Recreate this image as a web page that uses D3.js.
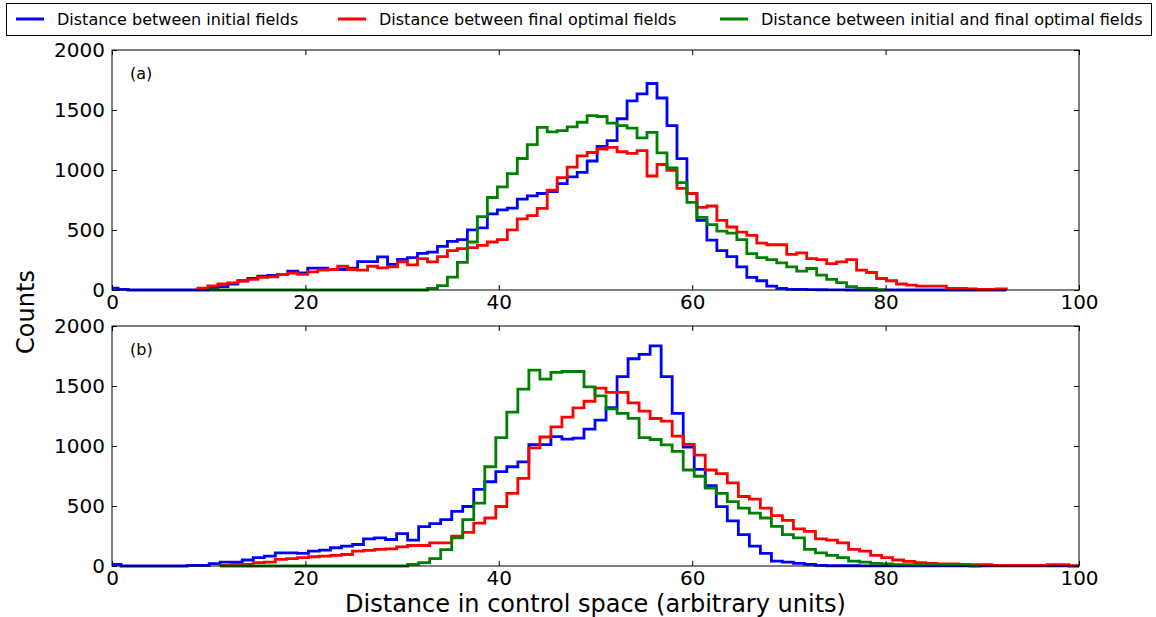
<!DOCTYPE html>
<html>
<head>
<meta charset="utf-8">
<title>Distance histograms</title>
<script src="https://cdn.jsdelivr.net/npm/d3@7/dist/d3.min.js"></script>
<style>
  body { margin: 0; background: #fff; }
  text { font-family: "DejaVu Sans", sans-serif; fill: #000; }
</style>
</head>
<body>
<div id="chart"></div>
<script>
// histogram bins (data units): first edge and width, 90 bins per panel
var binStartA = -0.4, binWidthA = 1.032;
var binStartB = -0.21, binWidthB = 1.14;

var xTicks = [0, 20, 40, 60, 80, 100];
var yTicks = [0, 500, 1000, 1500, 2000];
var panelLabels = ["(a)", "(b)"];
var seriesNames = ["Distance between initial fields",
                   "Distance between final optimal fields",
                   "Distance between initial and final optimal fields"];
var seriesColors = ["#0000ff", "#ff0000", "#008000"];

// counts per bin, null = outside the drawn range
var initialA = [15,5,0,0,0,0,0,0,0,0, 14,28,50,77,96,116,121,130,157,143,
  182,182,171,171,182,237,237,276,213,256, 270,305,316,364,405,419,501,518,634,667,
  683,758,785,804,821,887,942,980,1075,1197, 1245,1427,1576,1635,1721,1600,1370,1095,805,580,
  416,328,278,193,105,77,33,14,5,5, 3,2,1,1,0,0,0,0,0,0, 0,0,0,0,0,0,0,0,0,0];
var finalA = [null,null,null,null,null,null,null,null,null,15,
  35,50,60,75,88,105,110,130,140,130, 151,165,171,198,171,165,198,184,193,235,
  210,262,234,278,328,344,353,372,400,419, 501,592,620,680,832,937,1024,1118,1146,1175,
  1188,1152,1138,1162,950,1046,998,847,805,689, 700,580,525,482,455,391,377,377,297,309,
  262,253,220,234,253,165,146,96,77,50, 41,33,33,33,14,14,10,5,5,10];
var crossA = [null,null,null,null,null,null,null,null,null,null,
  0,0,0,0,0,0,0,0,0,0, 0,0,0,0,0,0,0,0,0,0,
  0,0,14,37,108,230,400,612,771,860, 970,1096,1212,1355,1317,1328,1360,1398,1453,1446,
  1390,1370,1349,1267,1313,1142,1018,894,730,606, 545,490,474,419,303,270,253,226,193,157,
  179,124,88,61,28,14,14,0,null,null, null,null,null,null,null,null,null,null,null,null];

var initialB = [14,0,0,0,0,0,0,6,6,19, 33,33,50,69,83,110,110,105,124,132,
  152,165,179,226,234,221,270,215,328,353, 386,455,496,639,702,786,827,868,1012,1012,
  1078,1058,1065,1141,1216,1320,1578,1727,1764,1835, 1578,1272,990,805,670,494,376,262,165,105,
  41,33,22,14,6,2,2,2,1,1, 1,1,1,1,1,1,1,1,1,1, 1,1,1,1,1,1,1,1,1,1];
var finalB = [null,null,null,null,null,null,null,null,null,null,
  5,14,14,28,33,55,61,69,77,83, 88,96,124,130,138,143,160,171,171,193,
  193,248,281,358,400,496,606,730,985,1075, 1160,1240,1318,1373,1483,1447,1447,1359,1290,1229,
  1207,1083,1014,924,800,770,692,579,557,482, 419,380,309,289,226,215,193,138,124,88,
  69,50,39,28,22,17,17,11,11,11, 6,6,6,6,6,11,11,0,0,0];
var crossB = [null,null,null,null,null,null,null,null,null,null,
  0,0,0,0,0,0,0,0,0,0, 0,0,0,0,0,0,0,14,28,61,
  137,234,386,524,827,1070,1282,1474,1632,1558, 1613,1621,1621,1493,1417,1310,1272,1230,1070,1054,
  1010,955,800,748,650,606,537,482,441,400, 331,262,234,138,110,88,69,41,33,22,
  17,11,11,11,11,11,11,11,0,null, null,null,null,null,null,null,null,null,null,null];

var panels = [
  {label: panelLabels[0], start: binStartA, width: binWidthA, series: [initialA, finalA, crossA]},
  {label: panelLabels[1], start: binStartB, width: binWidthB, series: [initialB, finalB, crossB]}
];

var W = 1156, H = 617;
var left = 112, right = 1079, plotH = 240;
var panelTops = [50, 326];

var svg = d3.select("#chart").append("svg")
  .attr("width", W).attr("height", H);

var x = d3.scaleLinear().domain([0, 100]).range([left, right]);

// step outline of one histogram, like matplotlib's histtype="step"
function stepPoints(counts, start, width) {
  var pts = [];
  var first = counts.findIndex(function (c) { return c !== null; });
  var last = counts.length - 1;
  while (counts[last] === null) last--;
  pts.push([start + first * width, 0]);
  for (var k = first; k <= last; k++) {
    pts.push([start + k * width, counts[k]]);
    pts.push([start + (k + 1) * width, counts[k]]);
  }
  pts.push([start + (last + 1) * width, 0]);
  return pts;
}

panels.forEach(function (p, i) {
  var top = panelTops[i];
  var y = d3.scaleLinear().domain([0, 2000]).range([top + plotH, top]);
  var g = svg.append("g");

  g.append("clipPath").attr("id", "clip" + i)
    .append("rect").attr("x", left).attr("y", top - 2)
    .attr("width", right - left).attr("height", plotH + 4);

  var line = d3.line()
    .x(function (d) { return x(d[0]); })
    .y(function (d) { return y(d[1]); });

  g.append("g").attr("clip-path", "url(#clip" + i + ")")
    .selectAll("path").data(p.series)
    .enter().append("path")
      .attr("d", function (d) { return line(stepPoints(d, p.start, p.width)); })
      .attr("fill", "none")
      .attr("stroke", function (d, j) { return seriesColors[j]; })
      .attr("stroke-width", 2.8)
      .attr("stroke-linejoin", "miter");

  // axes with inward ticks on all four sides
  var bottom = g.append("g").attr("transform", "translate(0," + (top + plotH) + ")")
    .call(d3.axisBottom(x).tickValues(xTicks).tickSize(-5).tickPadding(5));
  g.append("g").attr("transform", "translate(0," + top + ")")
    .call(d3.axisTop(x).tickValues(xTicks).tickSize(-5).tickFormat(""));
  var leftAx = g.append("g").attr("transform", "translate(" + left + ",0)")
    .call(d3.axisLeft(y).tickValues(yTicks).tickSize(-5).tickPadding(7)
      .tickFormat(d3.format("d")));
  g.append("g").attr("transform", "translate(" + right + ",0)")
    .call(d3.axisRight(y).tickValues(yTicks).tickSize(-5).tickFormat(""));
  g.selectAll(".domain").remove();
  g.selectAll(".tick line").attr("stroke", "#000");
  bottom.selectAll("text").style("font-size", "20px").attr("fill", "#000")
    .style("font-family", "DejaVu Sans");
  leftAx.selectAll("text").style("font-size", "20px").attr("fill", "#000")
    .style("font-family", "DejaVu Sans");

  g.append("rect").attr("x", left).attr("y", top)
    .attr("width", right - left).attr("height", plotH)
    .attr("fill", "none").attr("stroke", "#000").attr("stroke-width", 1);

  g.append("text").attr("x", left + 18).attr("y", top + 29)
    .style("font-size", "16px").text(p.label);
});

// axis titles
svg.append("text")
  .attr("transform", "translate(34," + 312 + ") rotate(-90)")
  .attr("text-anchor", "middle").style("font-size", "24px").text("Counts");
svg.append("text")
  .attr("x", (left + right) / 2).attr("y", 612)
  .attr("text-anchor", "middle").style("font-size", "24px")
  .text("Distance in control space (arbitrary units)");

// legend across the top
var legend = svg.append("g");
legend.append("rect").attr("x", 6.5).attr("y", 3.5)
  .attr("width", 1145).attr("height", 32)
  .attr("fill", "#fff").attr("stroke", "#000");
var legendX = [16, 338, 720];
seriesNames.forEach(function (name, j) {
  legend.append("line")
    .attr("x1", legendX[j]).attr("x2", legendX[j] + 28)
    .attr("y1", 19).attr("y2", 19)
    .attr("stroke", seriesColors[j]).attr("stroke-width", 3);
  legend.append("text").attr("x", legendX[j] + 41).attr("y", 25)
    .style("font-size", "16px").text(name);
});
</script>
</body>
</html>
